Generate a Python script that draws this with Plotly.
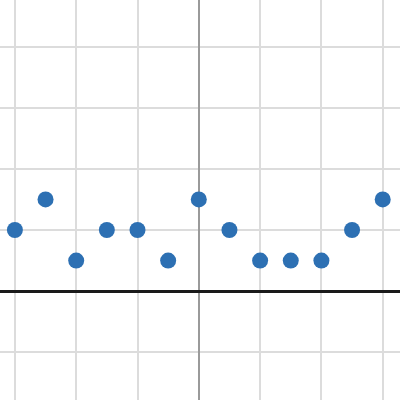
import plotly.graph_objects as go

x_vals = [-3, -2.5, -2, -1.5, -1, -0.5, 0, 0.5, 1, 1.5, 2, 2.5, 3]
y_vals = [1, 1.5, 0.5, 1, 1, 0.5, 1.5, 1, 0.5, 0.5, 0.5, 1, 1.5]

fig = go.Figure(go.Scatter(
    x=x_vals, y=y_vals, mode="markers",
    marker=dict(size=16, color="#2d70b3", line=dict(width=0)),
))

fig.update_layout(
    width=400, height=400,
    margin=dict(l=0, r=0, t=0, b=0),
    paper_bgcolor="white", plot_bgcolor="white",
    showlegend=False,
    xaxis=dict(range=[-3.243, 3.282], dtick=1, tick0=0, showticklabels=False,
               showgrid=True, gridcolor="#dcdcdc", gridwidth=1.5,
               zeroline=True, zerolinecolor="#9a9a9a", zerolinewidth=2,
               showline=False, ticks=""),
    yaxis=dict(range=[-1.782, 4.764], dtick=1, tick0=0, showticklabels=False,
               showgrid=True, gridcolor="#dcdcdc", gridwidth=1.5,
               zeroline=True, zerolinecolor="#1a1a1a", zerolinewidth=3,
               showline=False, ticks=""),
)

fig.write_html("out.html", config={"displayModeBar": False},
               post_script="document.body.style.margin='0';document.body.style.padding='0';")
